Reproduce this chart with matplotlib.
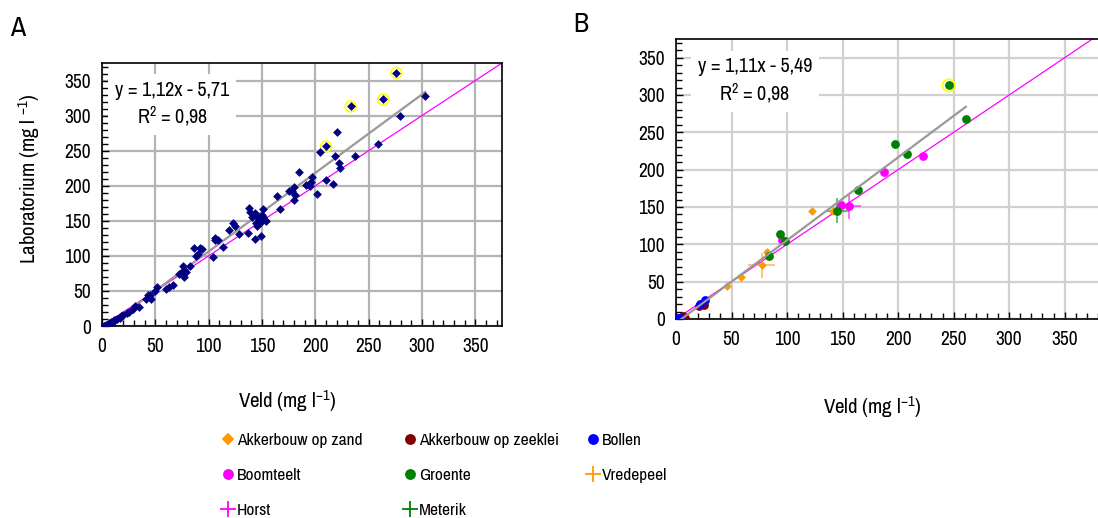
import matplotlib
matplotlib.use("Agg")
import matplotlib.pyplot as plt
from matplotlib.lines import Line2D
from matplotlib.ticker import MultipleLocator
from matplotlib import font_manager
import numpy as np

_avail = set(f.name for f in font_manager.fontManager.ttflist)
_cands = ['Liberation Sans Narrow', 'Arimo Narrow', 'Archivo Narrow', 'PT Sans Narrow', 'DejaVu Sans']
MAIN = next(c for c in _cands if c in _avail)
plt.rcParams['font.family'] = [MAIN, 'DejaVu Sans']
plt.rcParams['mathtext.fontset'] = 'custom'
plt.rcParams['mathtext.rm'] = MAIN
plt.rcParams['mathtext.it'] = MAIN
plt.rcParams['mathtext.bf'] = MAIN
plt.rcParams['mathtext.default'] = 'regular'

# ---------------- Panel A data ----------------
a_veld = [303, 279, 276, 263.5, 259, 233, 237, 220, 218, 222, 223, 217, 210, 204, 210,
          201.6, 197, 196, 195, 191, 185, 179.8, 180.7, 180.4, 178, 175, 166.7, 164.5,
          150.5, 153, 151, 149, 146, 144, 145, 148.6, 143, 137, 141, 138, 138.3, 143.6,
          150, 146, 154, 128.7, 124.3, 122.4, 119.3, 113, 108.4, 106, 106, 104.4, 94, 92,
          89.7, 86, 88.5, 82.5, 77.3, 76.3, 74, 77.3, 72.6, 78.8, 66.4, 63, 60, 51.4, 50,
          45, 46, 41.4, 43, 34.3, 30.5, 29, 25, 23.4, 17.8, 17, 14, 10.9, 8.4, 6.2, 4, 2.2,
          1.6, 5, 3, 8, 12, 20]
a_lab = [328, 299, 361, 323, 259.5, 313, 243, 276, 242, 232, 225, 203, 256, 248, 208.6,
         187.6, 213, 206, 199, 200.5, 220, 198, 187, 179, 193, 193, 167, 186,
         166.7, 151, 155, 149, 146.7, 146.7, 142, 128.6, 124, 132, 156, 167.6, 163, 161,
         158.6, 154, 149.5, 131, 143, 146.7, 137, 112, 123, 125, 122, 98, 109.5, 111,
         102, 111, 100, 85, 80, 85.7, 76, 70.5, 74, 77, 59, 55, 53, 55, 50.5,
         44, 38, 38, 44, 27.6, 28.6, 24, 20, 18, 14.8, 12, 10.5, 8.6, 5.7, 3.8, 1.9, 0,
         0.5, 1, 0, 3, 9, 16]
a_highlight_veld = [210, 233, 263.5, 276]
a_highlight_lab = [256, 313, 323, 361]
a_slope, a_intercept = 1.12, -5.71
a_fit_range = [2, 303]

# ---------------- Panel B data ----------------
groente_veld = [245.6, 260.8, 197.4, 207.6, 163.5, 145, 93.6, 98.2, 83.3]
groente_lab = [312.8, 268, 234.7, 221, 172.6, 145, 114.5, 104, 85]
boom_veld = [222, 187.4, 149, 156, 95.3]
boom_lab = [218.7, 197.4, 153, 151, 105.6]
zand_veld = [122.8, 141.5, 82.2, 77, 58.8, 46.2, 7.6]
zand_lab = [145, 144, 89.6, 72, 56, 44.4, 3.5]
zeeklei_veld = [20.8, 25, 6, 8.5]
zeeklei_lab = [17, 19, 3.5, 2]
bollen_veld = [3.2, 22, 25.7, 1.8]
bollen_lab = [1, 20, 25, 1.8]
b_highlight_veld = [245.6]
b_highlight_lab = [312.8]
# cross markers (location means with spread)
vredepeel = dict(x=77, y=72, xerr=12, yerr=17)
horst = dict(x=156, y=151, xerr=11, yerr=17)
meterik = dict(x=145, y=145, xerr=11, yerr=17)
b_slope, b_intercept = 1.11, -5.49
b_fit_range = [5, 261]

ORANGE = '#FF9900'
DARKRED = '#800000'
BLUE = '#0000FF'
MAGENTA = '#FF00FF'
GREEN = '#008000'
NAVY = '#000080'

fig = plt.figure(figsize=(10.98, 5.18), dpi=100)
W, H = 1098, 518

def px_axes(l, t, r, b):
    return fig.add_axes([l / W, 1 - b / H, (r - l) / W, (b - t) / H])

axA = px_axes(102, 63, 502, 326)
axB = px_axes(676, 39, 1098, 319)

def style(ax, xmax, ymax, gridcolor, showright=True):
    ax.set_xlim(0, xmax)
    ax.set_ylim(0, ymax)
    ax.xaxis.set_major_locator(MultipleLocator(50))
    ax.yaxis.set_major_locator(MultipleLocator(50))
    ax.xaxis.set_minor_locator(MultipleLocator(10))
    ax.yaxis.set_minor_locator(MultipleLocator(10))
    ax.grid(True, which='major', color=gridcolor, linewidth=1.6, zorder=0)
    ax.set_axisbelow(True)
    ax.tick_params(which='both', direction='in', colors='black', labelsize=14)
    ax.tick_params(which='major', length=5, width=1)
    ax.tick_params(which='minor', length=4, width=1)
    ax.tick_params(axis='x', pad=8)
    ax.tick_params(axis='y', pad=8)
    for s in ax.spines.values():
        s.set_linewidth(1.2)
    if not showright:
        ax.spines['right'].set_visible(False)

style(axA, 375, 375, '#b4b4b4')
style(axB, 380, 375, '#d0d0d0', showright=False)

# ---------------- Panel A ----------------
axA.plot([0, 375], [0, 375], color=MAGENTA, lw=0.9, zorder=2)
xa = np.array(a_fit_range)
axA.plot(xa, a_slope * xa + a_intercept, color='#999999', lw=1.6, zorder=3)
axA.scatter(a_highlight_veld, a_highlight_lab, s=60, facecolor='none', edgecolor='#FFFF00',
            linewidth=1.2, zorder=4)
axA.scatter(a_veld, a_lab, marker='D', s=20, color=NAVY, linewidth=0, zorder=5)
axA.text(66, 316, 'y = 1,12x - 5,71\nR$^2$ = 0,98', ha='center', va='center', fontsize=14.5,
         linespacing=1.25, zorder=2.4,
         bbox=dict(facecolor='white', edgecolor='none', pad=5))
axA.set_ylabel('Laboratorium (mg l $^{-1}$)', fontsize=15)
axA.yaxis.set_label_coords(-0.15, 0.56)
axA.set_xlabel('Veld (mg l$^{-1}$)', fontsize=15)
axA.xaxis.set_label_coords(0.4625, -0.235)

# ---------------- Panel B ----------------
axB.plot([0, 380], [0, 380], color=MAGENTA, lw=0.9, zorder=2)
xb = np.array(b_fit_range)
axB.plot(xb, b_slope * xb + b_intercept, color='#999999', lw=1.6, zorder=6)

for d, c in [(vredepeel, ORANGE), (horst, MAGENTA), (meterik, GREEN)]:
    axB.errorbar(d['x'], d['y'], xerr=d['xerr'], yerr=d['yerr'], fmt='none', ecolor=c,
                 elinewidth=1.3, capsize=0, alpha=0.6, zorder=3)

axB.scatter(b_highlight_veld, b_highlight_lab, s=80, facecolor='none', edgecolor='#FFFF00',
            linewidth=1.2, zorder=4)
axB.scatter(zand_veld, zand_lab, marker='D', s=20, color=ORANGE, linewidth=0, zorder=5)
axB.scatter(zeeklei_veld, zeeklei_lab, marker='o', s=40, color=DARKRED, linewidth=0, zorder=5)
axB.scatter(boom_veld, boom_lab, marker='o', s=40, color=MAGENTA, linewidth=0, zorder=5)
axB.scatter(groente_veld, groente_lab, marker='o', s=40, color=GREEN, linewidth=0, zorder=5)
axB.scatter(bollen_veld, bollen_lab, marker='o', s=40, color=BLUE, linewidth=0, zorder=5)
axB.text(71, 319, 'y = 1,11x - 5,49\nR$^2$ = 0,98', ha='center', va='center', fontsize=14.5,
         linespacing=1.25, zorder=2.4,
         bbox=dict(facecolor='white', edgecolor='none', pad=5))
axB.set_xlabel('Veld (mg l$^{-1}$)', fontsize=15)
axB.xaxis.set_label_coords(0.464, -0.27)

fig.text(10 / W, 1 - 28 / H, 'A', fontsize=20, ha='left', va='center')
fig.text(573 / W, 1 - 25 / H, 'B', fontsize=20, ha='left', va='center')

# ---------------- Legend ----------------
def h(marker, color, ms):
    return Line2D([], [], linestyle='none', marker=marker, color=color, markersize=ms,
                  markeredgewidth=1.3)

cols = [
    ([h('D', ORANGE, 5), h('o', MAGENTA, 6.5), h('+', MAGENTA, 11)],
     ['Akkerbouw op zand', 'Boomteelt', 'Horst'], 222),
    ([h('o', DARKRED, 6.5), h('o', GREEN, 6.5), h('+', GREEN, 11)],
     ['Akkerbouw op zeeklei', 'Groente', 'Meterik'], 404),
    ([h('o', BLUE, 6.5), h('+', ORANGE, 11)],
     ['Bollen', 'Vredepeel'], 587),
]
for handles, labels, xpx in cols:
    fig.legend(handles, labels, loc='upper left', bbox_to_anchor=(xpx / W, 1 - 433 / H),
               frameon=False, fontsize=12.5, handlelength=0.7, handletextpad=0.15,
               labelspacing=1.15, borderpad=0, borderaxespad=0)

fig.savefig('out.png', dpi=100)
